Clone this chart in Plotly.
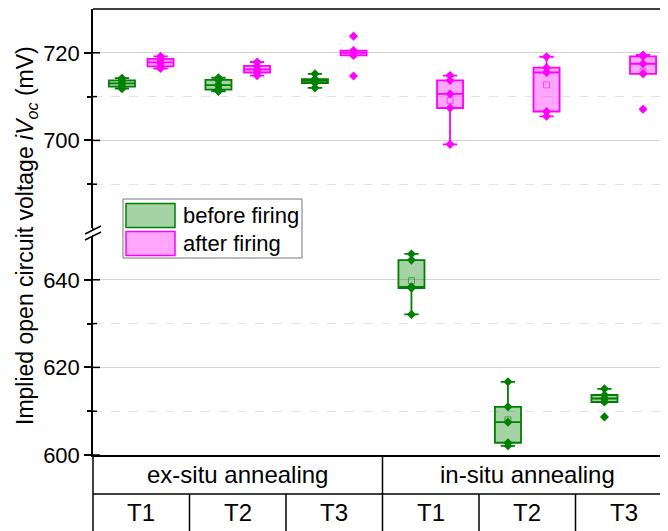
import numpy as np
import plotly.graph_objects as go

# ---------------- data ----------------
conditions = ["ex-situ annealing", "in-situ annealing"]
temperatures = ["T1", "T2", "T3"]
series_names = ["before firing", "after firing"]

# iVoc values (mV), one list per sample group
before_exsitu = [
    [711.8, 712.3, 713.0, 713.7, 714.2],
    [711.2, 711.6, 712.6, 713.8, 714.3],
    [712.0, 713.1, 713.6, 714.0, 715.2],
]
after_exsitu = [
    [716.4, 716.9, 717.8, 718.6, 719.2],
    [714.8, 715.5, 716.2, 717.0, 717.9],
    [714.7, 719.4, 720.0, 720.5, 723.8],
]
before_insitu = [
    [632.1, 638.1, 638.4, 644.5, 645.9],
    [602.1, 602.8, 607.5, 611.0, 616.7],
    [608.7, 612.1, 612.9, 613.7, 615.1],
]
after_insitu = [
    [699.1, 707.4, 710.6, 713.7, 714.8],
    [705.5, 706.6, 715.5, 716.6, 719.1],
    [707.1, 715.2, 717.5, 719.2, 719.5],
]

upper_range = [680, 730]
lower_range = [600, 650]
upper_ticks = [700, 720]
upper_minor = [690, 710]
lower_ticks = [600, 620, 640]
lower_minor = [610, 630]

# ---------------- style ----------------
FONT = "Liberation Sans, Arial, sans-serif"
GREEN = "#008000"
GREEN_FILL = "rgba(0,128,0,0.35)"
PINK = "#FF00FF"
PINK_FILL = "rgba(255,0,255,0.35)"
PAGE = 8                      # default body margin of the html page
W, H = 668 - PAGE, 531 - PAGE
L, R, T, B = 93 - PAGE, 0, 9 - PAGE, 76
PW, PH = W - L - R, H - T - B   # 575 x 446
COLW = 96.5  # px per category column
x_max = -0.5 + PW / COLW
OFF = 0.2
BOXW = 0.27

# helpers: screen pixel -> paper fraction
def px_x(px):
    return (px - 93) / PW

def px_y(py):
    return (455 - py) / PH

split_lo = px_y(236)
split_hi = px_y(228)

fig = go.Figure()

groups = [
    (before_exsitu, 0, -OFF, GREEN, GREEN_FILL),
    (before_insitu, 1, -OFF, GREEN, GREEN_FILL),
    (after_exsitu, 0, OFF, PINK, PINK_FILL),
    (after_insitu, 1, OFF, PINK, PINK_FILL),
]
for data, ci, off, col, fill in groups:
    for ti, vals in enumerate(data):
        pos = ci * 3 + ti + off
        yaxis = "y2" if np.median(vals) > upper_range[0] else "y"
        fig.add_trace(go.Box(
            y=vals, x0=pos, width=BOXW, yaxis=yaxis, xaxis="x",
            boxpoints="all", jitter=0, pointpos=0, quartilemethod="inclusive",
            marker=dict(symbol="diamond", size=7, color=col),
            line=dict(color=col, width=1.8), fillcolor=fill,
            whiskerwidth=0.55, showlegend=False, hoverinfo="y",
        ))
        fig.add_trace(go.Scatter(
            x=[pos], y=[float(np.mean(vals))], yaxis=yaxis, xaxis="x",
            mode="markers", showlegend=False,
            marker=dict(symbol="square-open", size=6,
                        color=fill.replace("0.35", "0.6"), line=dict(width=1)),
        ))

axis_common = dict(
    showline=True, linecolor="black", linewidth=1.5,
    ticks="outside", ticklen=7, tickwidth=1.5, tickcolor="black",
    showgrid=True, gridcolor="#d4d4d4", gridwidth=1,
    zeroline=False, tickfont=dict(family=FONT, size=22, color="black"),
    anchor="x",
)
fig.update_layout(
    width=W, height=H,
    margin=dict(l=L, r=R, t=T, b=B),
    plot_bgcolor="white", paper_bgcolor="white",
    boxmode="overlay", showlegend=False,
    xaxis=dict(range=[-0.5, x_max], showgrid=False, zeroline=False,
               showticklabels=False, ticks="", showline=True,
               linecolor="black", linewidth=1.5, anchor="y"),
    yaxis=dict(domain=[0, split_lo], range=lower_range, tickvals=lower_ticks,
               minor=dict(tickvals=lower_minor, ticks="outside", ticklen=4,
                          tickcolor="black", tickwidth=1.5, showgrid=True,
                          gridcolor="#e3e3e3", griddash="dash"),
               **axis_common),
    yaxis2=dict(domain=[split_hi, 1], range=upper_range, tickvals=upper_ticks,
                minor=dict(tickvals=upper_minor, ticks="outside", ticklen=4,
                           tickcolor="black", tickwidth=1.5, showgrid=True,
                           gridcolor="#e3e3e3", griddash="dash"),
                **axis_common),
)

shapes = []
# inside parts of ticks (ticks cross the axis line)
for ax, majors, minors in (("y", lower_ticks, lower_minor), ("y2", upper_ticks, upper_minor)):
    for v in majors:
        shapes.append(dict(type="line", xref="paper", yref=ax, x0=0, x1=px_x(93 + 7),
                           y0=v, y1=v, line=dict(color="black", width=1.5)))
    for v in minors:
        shapes.append(dict(type="line", xref="paper", yref=ax, x0=0, x1=px_x(93 + 4),
                           y0=v, y1=v, line=dict(color="black", width=1.5)))
# top frame
shapes.append(dict(type="line", xref="paper", yref="paper", x0=0, x1=1, y0=1, y1=1,
                   line=dict(color="black", width=1.5)))
# axis line through the break gap
shapes.append(dict(type="line", xref="paper", yref="paper", x0=0, x1=0,
                   y0=split_lo, y1=split_hi, line=dict(color="black", width=1.5)))
# break marks (left and right)
for cx in (93, 93 + 3 + PW):
    shapes.append(dict(type="path", xref="paper", yref="paper",
                       path=f"M {px_x(cx-5)} {px_y(230)} L {px_x(cx+5)} {px_y(230)} L {px_x(cx+5)} {px_y(235)} L {px_x(cx-5)} {px_y(235)} Z",
                       fillcolor="white", line=dict(width=0)))
    for dy in (0, 6):
        shapes.append(dict(type="line", xref="paper", yref="paper",
                           x0=px_x(cx - 8), y0=px_y(234 + dy), x1=px_x(cx + 8), y1=px_y(226 + dy),
                           line=dict(color="black", width=1.5)))

# bottom table
row1 = px_y(494)
bottom = px_y(531 + 5)
shapes.append(dict(type="line", xref="paper", yref="paper", x0=0, x1=1, y0=row1, y1=row1,
                   line=dict(color="black", width=1.5)))
shapes.append(dict(type="line", xref="paper", yref="paper", x0=0, x1=0, y0=0, y1=bottom,
                   line=dict(color="black", width=1.5)))
for b in (0.5, 1.5, 3.5, 4.5):
    shapes.append(dict(type="line", xref="x", yref="paper", x0=b, x1=b, y0=row1, y1=bottom,
                       line=dict(color="black", width=1.5)))
shapes.append(dict(type="line", xref="x", yref="paper", x0=2.5, x1=2.5, y0=0, y1=bottom,
                   line=dict(color="black", width=1.5)))

annotations = []
for ci, cond in enumerate(conditions):
    annotations.append(dict(text=cond, xref="x", yref="paper", x=ci * 3 + 1, y=px_y(475),
                            showarrow=False, font=dict(family=FONT, size=24, color="black"),
                            yanchor="middle"))
    for ti, t in enumerate(temperatures):
        annotations.append(dict(text=t, xref="x", yref="paper", x=ci * 3 + ti, y=px_y(513),
                                showarrow=False, font=dict(family=FONT, size=24, color="black"),
                                yanchor="middle"))

# y title
annotations.append(dict(text="Implied open circuit voltage <i>iV</i><sub><i>oc</i></sub> (mV)",
                        xref="paper", yref="paper", x=px_x(26), y=px_y(236), textangle=-90,
                        showarrow=False, font=dict(family=FONT, size=23, color="black"),
                        xanchor="center", yanchor="middle"))

# legend (drawn manually)
shapes.append(dict(type="rect", xref="paper", yref="paper", x0=px_x(123), x1=px_x(302),
                   y0=px_y(258), y1=px_y(199), line=dict(color="#777777", width=1),
                   fillcolor="white"))
for (name, col, fill, yc) in ((series_names[0], GREEN, GREEN_FILL, 215.5),
                              (series_names[1], PINK, PINK_FILL, 243.5)):
    shapes.append(dict(type="rect", xref="paper", yref="paper", x0=px_x(126), x1=px_x(175),
                       y0=px_y(yc + 12), y1=px_y(yc - 12), line=dict(color=col, width=1.5),
                       fillcolor=fill))
    annotations.append(dict(text=name, xref="paper", yref="paper", x=px_x(181), y=px_y(yc),
                            xanchor="left", yanchor="middle", showarrow=False,
                            font=dict(family=FONT, size=22, color="black")))

fig.update_layout(shapes=shapes, annotations=annotations)
fig.write_html("out.html")
